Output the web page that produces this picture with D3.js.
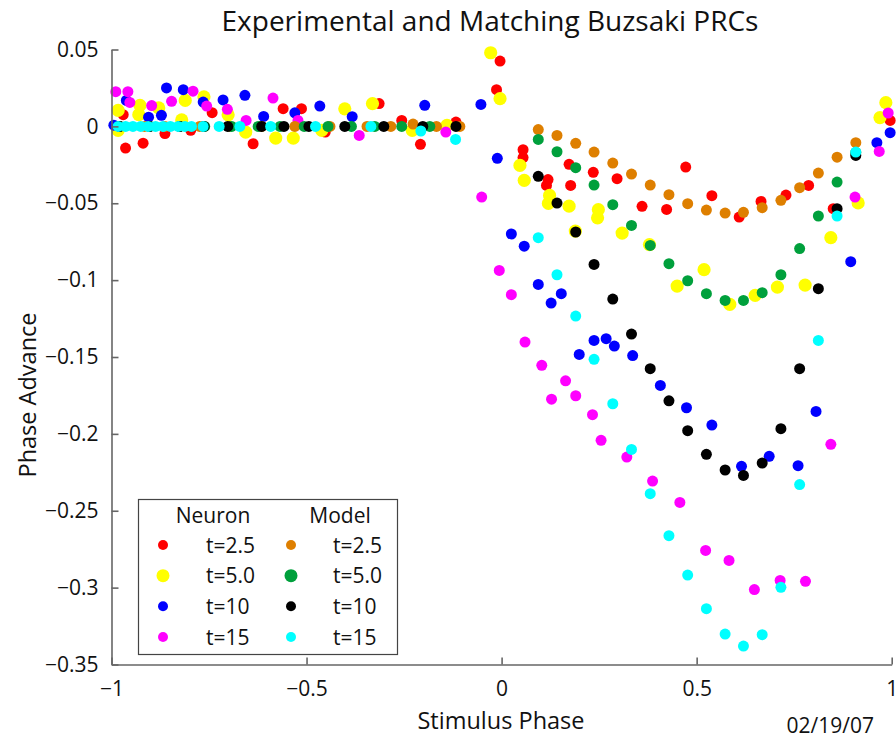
<!DOCTYPE html>
<html>
<head>
<meta charset="utf-8">
<script src="https://cdn.jsdelivr.net/npm/d3@7"></script>
<style>
  body { margin: 0; background: #fff; }
  svg { display: block; }
  text { font-family: "Open Sans", "Noto Sans", sans-serif; fill: #111; }
</style>
</head>
<body>
<svg id="chart" width="896" height="739"></svg>
<script>
// Phase response curves: [stimulus phase, phase advance]

// Experimental neuron, t = 2.5
const neuronT25 = [
  [-0.970, 0.0076], [-0.964, -0.0141], [-0.919, -0.0109], [-0.863, -0.0047], [-0.797, -0.0026],
  [-0.742, 0.0089], [-0.637, -0.0113], [-0.560, 0.0115], [-0.513, 0.0115], [-0.452, -0.0037],
  [-0.314, 0.0148], [-0.256, 0.0039], [-0.208, -0.0117], [-0.117, 0.0028],
  [-0.004, 0.0425], [-0.013, 0.0239], [0.055, -0.0152], [0.055, -0.0203], [0.115, -0.0384],
  [0.119, -0.0346], [0.173, -0.0247], [0.177, -0.0384], [0.235, -0.0299], [0.296, -0.0340],
  [0.360, -0.0520], [0.423, -0.0540], [0.472, -0.0265], [0.539, -0.0451], [0.609, -0.0590],
  [0.665, -0.0488], [0.729, -0.0447], [0.787, -0.0384], [0.850, -0.0535], [0.996, 0.0039]
];

// Experimental neuron, t = 5.0
const neuronT50 = [
  [-0.983, 0.0104], [-0.983, -0.0026], [-0.927, 0.0137], [-0.930, 0.0076], [-0.879, 0.0120],
  [-0.811, 0.0169], [-0.820, 0.0042], [-0.763, 0.0192], [-0.701, 0.0075], [-0.656, -0.0037],
  [-0.579, -0.0076], [-0.534, -0.0076], [-0.461, -0.0026], [-0.402, 0.0114], [-0.331, 0.0148],
  [-0.229, -0.0026], [-0.140, 0.0007],
  [-0.028, 0.0479], [-0.004, 0.0180], [0.047, -0.0254], [0.058, -0.0351], [0.123, -0.0449],
  [0.120, -0.0501], [0.173, -0.0519], [0.248, -0.0542], [0.246, -0.0595], [0.189, -0.0681],
  [0.309, -0.0694], [0.379, -0.0769], [0.450, -0.1039], [0.519, -0.0932], [0.585, -0.1158],
  [0.650, -0.1099], [0.707, -0.1045], [0.778, -0.1032], [0.844, -0.0724], [0.914, -0.0498],
  [0.970, 0.0057], [0.985, 0.0154]
];

// Experimental neuron, t = 10
const neuronT10 = [
  [-0.994, 0.0008], [-0.962, 0.0169], [-0.905, 0.0060], [-0.872, 0.0072], [-0.859, 0.0250],
  [-0.816, 0.0239], [-0.765, 0.0158], [-0.714, 0.0172], [-0.658, 0.0202], [-0.610, 0.0065],
  [-0.530, 0.0088], [-0.466, 0.0132], [-0.383, 0.0063], [-0.197, 0.0137], [-0.053, 0.0143],
  [-0.011, -0.0208],
  [0.025, -0.0700], [0.058, -0.0779], [0.094, -0.1028], [0.127, -0.1149], [0.153, -0.1088],
  [0.199, -0.1483], [0.237, -0.1392], [0.268, -0.1381], [0.289, -0.1429], [0.336, -0.1491],
  [0.407, -0.1685], [0.474, -0.1830], [0.539, -0.1943], [0.615, -0.2211], [0.686, -0.2146],
  [0.760, -0.2207], [0.806, -0.1854], [0.895, -0.0880], [0.962, -0.0106], [0.996, -0.0041]
];

// Experimental neuron, t = 15
const neuronT15 = [
  [-0.989, 0.0226], [-0.958, 0.0226], [-0.953, 0.0156], [-0.897, 0.0135], [-0.846, 0.0163],
  [-0.791, 0.0229], [-0.756, 0.0132], [-0.703, 0.0111], [-0.655, 0.0039], [-0.586, 0.0184],
  [-0.522, 0.0039], [-0.365, -0.0059], [-0.143, -0.0037], [-0.051, -0.0460],
  [-0.006, -0.0937], [0.025, -0.1095], [0.060, -0.1403], [0.103, -0.1554], [0.128, -0.1774],
  [0.164, -0.1655], [0.190, -0.1752], [0.233, -0.1875], [0.255, -0.2042], [0.321, -0.2151],
  [0.387, -0.2307], [0.457, -0.2446], [0.523, -0.2758], [0.583, -0.2823], [0.648, -0.3013],
  [0.714, -0.2953], [0.779, -0.2959], [0.844, -0.2068], [0.906, -0.0460], [0.968, -0.0163],
  [0.991, 0.0087]
];

// Model, t = 2.5
const modelT25 = [
  [-0.979, 0], [-0.915, 0], [-0.863, 0], [-0.774, 0], [-0.697, 0], [-0.615, 0], [-0.530, 0],
  [-0.440, 0], [-0.345, 0], [-0.284, 0], [-0.227, 0.0015], [-0.167, 0], [-0.107, 0],
  [0.094, -0.0021], [0.142, -0.0059], [0.190, -0.0110], [0.237, -0.0167], [0.285, -0.0239],
  [0.333, -0.0310], [0.381, -0.0382], [0.429, -0.0444], [0.477, -0.0503], [0.525, -0.0544],
  [0.573, -0.0564], [0.620, -0.0559], [0.668, -0.0529], [0.716, -0.0481], [0.764, -0.0399],
  [0.812, -0.0304], [0.860, -0.0200], [0.908, -0.0106]
];

// Model, t = 5.0
const modelT50 = [
  [-0.979, 0], [-0.902, 0], [-0.825, 0], [-0.761, 0], [-0.692, 0], [-0.624, 0], [-0.568, 0],
  [-0.506, 0], [-0.445, 0], [-0.385, 0], [-0.325, 0], [-0.256, 0], [-0.184, 0],
  [0.094, -0.0085], [0.142, -0.0165], [0.190, -0.0269], [0.237, -0.0382], [0.285, -0.0509],
  [0.333, -0.0644], [0.381, -0.0774], [0.429, -0.0893], [0.477, -0.1004], [0.525, -0.1088],
  [0.573, -0.1132], [0.620, -0.1132], [0.668, -0.1082], [0.716, -0.0965], [0.764, -0.0795],
  [0.812, -0.0583], [0.860, -0.0362], [0.908, -0.0170]
];

// Model, t = 10
const modelT10 = [
  [-0.979, 0], [-0.902, 0], [-0.825, 0], [-0.763, 0], [-0.702, 0], [-0.615, 0], [-0.558, 0],
  [-0.494, 0], [-0.402, 0], [-0.302, 0], [-0.202, 0], [-0.117, 0],
  [0.094, -0.0325], [0.142, -0.0499], [0.190, -0.0687], [0.237, -0.0898], [0.285, -0.1123],
  [0.333, -0.1351], [0.381, -0.1576], [0.429, -0.1785], [0.477, -0.1979], [0.525, -0.2133],
  [0.573, -0.2235], [0.620, -0.2270], [0.668, -0.2190], [0.716, -0.1966], [0.764, -0.1576],
  [0.812, -0.1056], [0.860, -0.0535], [0.908, -0.0189]
];

// Model, t = 15
const modelT15 = [
  [-0.983, 0], [-0.964, 0], [-0.945, 0], [-0.925, 0], [-0.906, 0], [-0.887, 0], [-0.868, 0],
  [-0.849, 0], [-0.829, 0], [-0.812, 0], [-0.795, 0], [-0.765, 0], [-0.724, 0], [-0.671, 0],
  [-0.592, 0], [-0.477, 0], [-0.335, 0], [-0.207, -0.0030], [-0.118, -0.0085],
  [0.094, -0.0724], [0.142, -0.0965], [0.190, -0.1234], [0.237, -0.1515], [0.285, -0.1804],
  [0.333, -0.2101], [0.381, -0.2389], [0.429, -0.2662], [0.477, -0.2918], [0.525, -0.3137],
  [0.573, -0.3302], [0.620, -0.3380], [0.668, -0.3306], [0.716, -0.2998], [0.764, -0.2330],
  [0.812, -0.1392], [0.860, -0.0583], [0.908, -0.0167]
];

const xTicks = [-1, -0.5, 0, 0.5, 1];
const yTicks = [0.05, 0, -0.05, -0.1, -0.15, -0.2, -0.25, -0.3, -0.35];
const legendLabels = ["t=2.5", "t=5.0", "t=10", "t=15"];

const series = [
  { data: neuronT25, color: "#ff0000", r: 5.5 },
  { data: neuronT50, color: "#ffff00", r: 6.6 },
  { data: neuronT10, color: "#0000ff", r: 5.5 },
  { data: neuronT15, color: "#ff00ff", r: 5.5 },
  { data: modelT25, color: "#de7f00", r: 5.5 },
  { data: modelT50, color: "#00a03c", r: 5.5 },
  { data: modelT10, color: "#000000", r: 5.5 },
  { data: modelT15, color: "#00ffff", r: 5.5 }
];

const svg = d3.select("#chart");
const x = d3.scaleLinear().domain([-1, 1]).range([111.5, 891.7]);
const y = d3.scaleLinear().domain([-0.35, 0.05]).range([664.5, 49.5]);
const fmt = d3.format("~g");
const axisColor = "#666";

// Markers, drawn in series order so later series sit on top
series.forEach(s => {
  svg.append("g")
    .selectAll("circle")
    .data(s.data)
    .join("circle")
    .attr("cx", d => x(d[0]))
    .attr("cy", d => y(d[1]))
    .attr("r", s.r)
    .attr("fill", s.color);
});

// Axes with inward ticks
const gx = svg.append("g")
  .attr("transform", `translate(0,${y(-0.35)})`)
  .call(d3.axisBottom(x).tickValues(xTicks).tickFormat(fmt)
    .tickSizeInner(-7).tickSizeOuter(0).tickPadding(17));
const gy = svg.append("g")
  .attr("transform", `translate(${x(-1)},0)`)
  .call(d3.axisLeft(y).tickValues(yTicks).tickFormat(fmt)
    .tickSizeInner(-7).tickSizeOuter(0).tickPadding(13));
[gx, gy].forEach(g => {
  g.select(".domain").attr("stroke", axisColor).attr("stroke-width", 1.6);
  g.selectAll(".tick line").attr("stroke", axisColor).attr("stroke-width", 1.6);
  g.selectAll(".tick text").attr("font-size", 21).attr("fill", "#111")
    .attr("font-family", '"Open Sans", sans-serif');
});

// Titles
svg.append("text")
  .attr("x", 490).attr("y", 31)
  .attr("text-anchor", "middle")
  .attr("font-size", 28)
  .text("Experimental and Matching Buzsaki PRCs");

svg.append("text")
  .attr("x", 501).attr("y", 729)
  .attr("text-anchor", "middle")
  .attr("font-size", 23.5)
  .text("Stimulus Phase");

svg.append("text")
  .attr("transform", "translate(36,395) rotate(-90)")
  .attr("text-anchor", "middle")
  .attr("font-size", 23.5)
  .text("Phase Advance");

svg.append("text")
  .attr("x", 874).attr("y", 733)
  .attr("text-anchor", "end")
  .attr("font-size", 21)
  .text("02/19/07");

// Legend
const legend = svg.append("g");
legend.append("rect")
  .attr("x", 138.5).attr("y", 499.5)
  .attr("width", 259).attr("height", 155)
  .attr("fill", "#fff").attr("stroke", "#444").attr("stroke-width", 1.2);

legend.append("text").attr("x", 213).attr("y", 523)
  .attr("text-anchor", "middle").attr("font-size", 21).text("Neuron");
legend.append("text").attr("x", 340).attr("y", 523)
  .attr("text-anchor", "middle").attr("font-size", 21).text("Model");

const rowY = d3.scalePoint().domain(legendLabels).range([545, 637]);
const legendMarkR = [5, 6.5, 5, 5];
[0, 1].forEach(col => {
  legendLabels.forEach((lab, i) => {
    const s = series[col * 4 + i];
    const cy = rowY(lab);
    legend.append("circle")
      .attr("cx", col === 0 ? 163 : 291).attr("cy", cy)
      .attr("r", legendMarkR[i]).attr("fill", s.color);
    legend.append("text")
      .attr("x", col === 0 ? 206 : 333).attr("y", cy + 7.5)
      .attr("font-size", 21).text(lab);
  });
});
</script>
</body>
</html>
